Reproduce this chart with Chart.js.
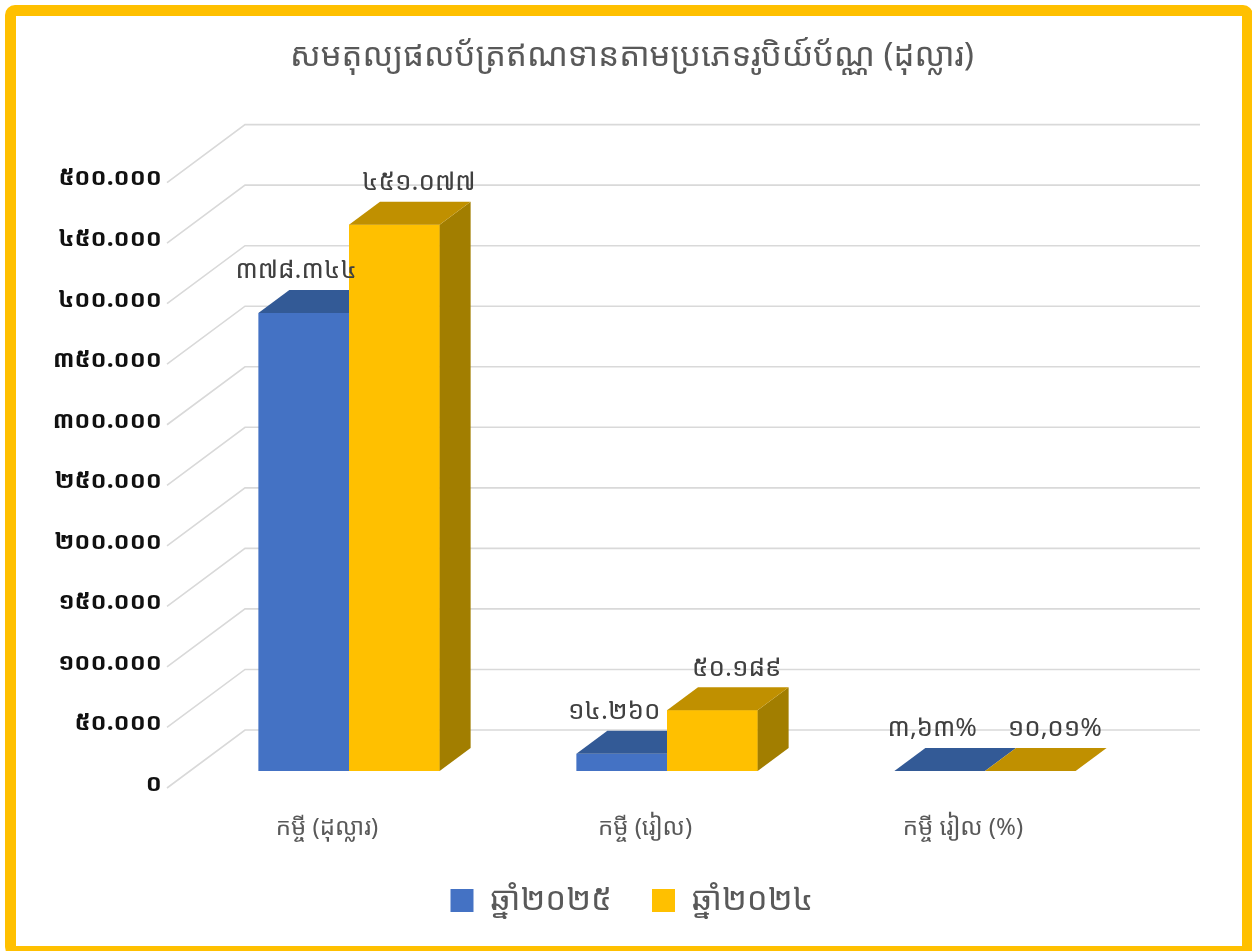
<!DOCTYPE html>
<html>
<head>
<meta charset="utf-8">
<script src="https://cdn.jsdelivr.net/npm/chart.js@4.4.1/dist/chart.umd.min.js"></script>
<style>
  html, body { margin: 0; padding: 0; background: #fff; }
  #wrap { position: relative; width: 1252px; height: 951px; overflow: hidden; }
  #frame {
    position: absolute; left: 5px; top: 5px; width: 1248px; height: 952px;
    box-sizing: border-box; border: 11px solid #FFC000; border-radius: 10px;
    pointer-events: none;
  }
</style>
</head>
<body>
<div id="wrap">
  <canvas id="chart"></canvas>
  <div id="frame"></div>
</div>
<script>
// ទិន្នន័យ
const categories = ['កម្ចី (ដុល្លារ)', 'កម្ចី (រៀល)', 'កម្ចី រៀល (%)'];
const series2025 = [378344, 14260, 3.63];
const series2024 = [451077, 50189, 10.01];
const valueSuffix = ['', '', '%'];
const seriesNames = ['ឆ្នាំ២០២៥', 'ឆ្នាំ២០២៤'];
const yMax = 500000;
const yStep = 50000;

const khmerFont = "'Noto Sans Khmer', 'Khmer OS', 'Khmer OS System', 'Noto Sans', sans-serif";
const khmerDigits = '០១២៣៤៥៦៧៨៩';
function toKhmer(n) {
    return new Intl.NumberFormat('de-DE', { maximumFractionDigits: 2 })
        .format(n).replace(/\d/g, d => khmerDigits[d]);
}

// 3D depth of the bars
const depthX = 31, depthY = 23;
const faceColors = [
    { top: '#335A96', side: '#2B4C80' },
    { top: '#C09000', side: '#A27E00' }
];

// back wall grid + left wall diagonals
const wallPlugin = {
    id: 'wall',
    beforeDatasetsDraw(chart) {
        const { ctx, chartArea, scales } = chart;
        ctx.save();
        ctx.strokeStyle = '#D9D9D9';
        ctx.lineWidth = 1.6;
        scales.y.ticks.forEach(t => {
            const y = scales.y.getPixelForValue(t.value);
            ctx.beginPath();
            ctx.moveTo(chartArea.left - 23, y + 17);
            ctx.lineTo(chartArea.left + 55, y - 41);
            ctx.lineTo(chartArea.right + 56, y - 41);
            ctx.stroke();
        });
        ctx.restore();
    }
};

function drawFaces(ctx, bar, c) {
    const p = bar.getProps(['x', 'y', 'base', 'width'], true);
    const l = p.x - p.width / 2, r = p.x + p.width / 2;
    ctx.save();
    ctx.fillStyle = c.side;
    ctx.beginPath();
    ctx.moveTo(r, p.y);
    ctx.lineTo(r + depthX, p.y - depthY);
    ctx.lineTo(r + depthX, p.base - depthY);
    ctx.lineTo(r, p.base);
    ctx.closePath();
    ctx.fill();
    ctx.fillStyle = c.top;
    ctx.beginPath();
    ctx.moveTo(l, p.y);
    ctx.lineTo(l + depthX, p.y - depthY);
    ctx.lineTo(r + depthX, p.y - depthY);
    ctx.lineTo(r, p.y);
    ctx.closePath();
    ctx.fill();
    ctx.restore();
}

// faces of the boxes: blue first, then the yellow bar again on top of it
const boxPlugin = {
    id: 'box3d',
    afterDatasetsDraw(chart) {
        const { ctx } = chart;
        const m0 = chart.getDatasetMeta(0);
        const m1 = chart.getDatasetMeta(1);
        m0.data.forEach(bar => drawFaces(ctx, bar, faceColors[0]));
        m1.data.forEach(bar => bar.draw(ctx));
        m1.data.forEach(bar => drawFaces(ctx, bar, faceColors[1]));

        ctx.save();
        ctx.font = '26px ' + khmerFont;
        ctx.fillStyle = '#404040';
        ctx.textAlign = 'center';
        ctx.textBaseline = 'middle';
        chart.data.datasets.forEach((ds, di) => {
            const shift = di === 0 ? -8 : 24;
            chart.getDatasetMeta(di).data.forEach((bar, i) => {
                const txt = toKhmer(ds.data[i]) + valueSuffix[i];
                ctx.fillText(txt, bar.x + depthX / 2 + shift - 15, bar.y - 42);
            });
        });
        ctx.restore();
    }
};

const ctx = document.getElementById('chart').getContext('2d');
const myChart = new Chart(ctx, {
    type: 'bar',
    data: {
        labels: categories,
        datasets: [{
            label: seriesNames[0],
            data: series2025,
            backgroundColor: '#4472C4',
            borderWidth: 0
        }, {
            label: seriesNames[1],
            data: series2024,
            backgroundColor: '#FFC000',
            borderWidth: 0
        }]
    },
    options: {
        responsive: true,
        maintainAspectRatio: false,
        animation: false,
        layout: { padding: { left: 40, right: 28, top: 0, bottom: 24 } },
        categoryPercentage: 0.57,
        barPercentage: 1.0,
        plugins: {
            title: {
                display: true,
                text: 'សមតុល្យផលប័ត្រឥណទានតាមប្រភេទរូបិយ៍ប័ណ្ណ (ដុល្លារ)',
                color: '#595959',
                font: { family: khmerFont, size: 33, weight: 'normal' },
                padding: { top: 37, bottom: 89 }
            },
            legend: {
                position: 'bottom',
                labels: {
                    color: '#595959',
                    font: { family: khmerFont, size: 33 },
                    boxWidth: 23,
                    boxHeight: 23,
                    padding: 40
                }
            },
            tooltip: { enabled: false }
        },
        scales: {
            x: {
                grid: { display: false },
                border: { display: false },
                ticks: {
                    color: '#595959',
                    font: { family: khmerFont, size: 24 },
                    padding: 35,
                    labelOffset: -22
                },
                afterFit(scale) { scale.height = 73; }
            },
            y: {
                min: 0,
                max: yMax,
                grid: { display: false },
                border: { display: false },
                ticks: {
                    stepSize: yStep,
                    color: '#111',
                    font: { family: khmerFont, size: 24, weight: 'bold' },
                    padding: 20,
                    labelOffset: 13,
                    callback: v => toKhmer(v)
                },
                afterFit(scale) { scale.width = 150; }
            },
            // empty room on the right, where the back wall sticks out
            yRight: {
                position: 'right',
                grid: { display: false },
                border: { display: false },
                ticks: { display: false },
                afterFit(scale) { scale.width = 80; }
            }
        }
    },
    plugins: [wallPlugin, boxPlugin]
});
</script>
</body>
</html>
